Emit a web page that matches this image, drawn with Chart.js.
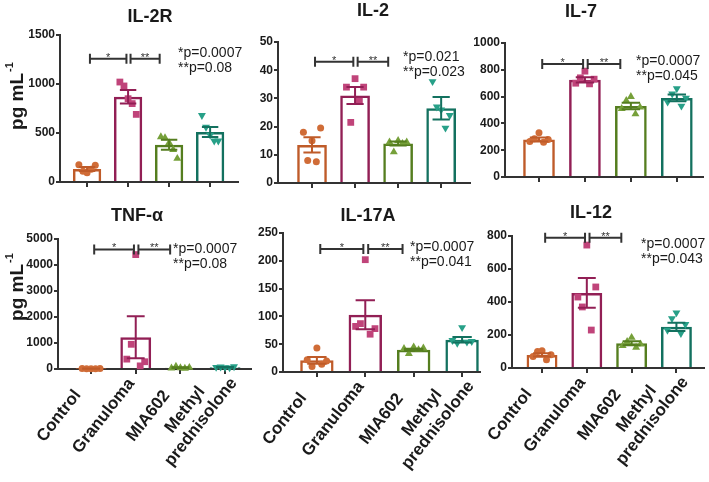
<!DOCTYPE html>
<html>
<head>
<meta charset="utf-8">
<script src="https://cdn.jsdelivr.net/npm/chart.js@4.4.0/dist/chart.umd.min.js"></script>
<style>
  html, body { margin: 0; padding: 0; background: #fff; }
  #wrap { position: relative; width: 709px; height: 482px; }
  #wrap canvas { position: absolute; left: 0; top: 0; }
</style>
</head>
<body>
<div id="wrap"></div>
<script>
var groups = ['Control', 'Granuloma', 'MIA602', ['Methyl', 'prednisolone']];
var titles = ['IL-2R', 'IL-2', 'IL-7', 'TNF-α', 'IL-17A', 'IL-12'];

// bar = mean, error bar = SEM, dots = single animals
var il2rMean = [133, 870, 380, 510];
var il2rSem = [20, 70, 50, 50];
var il2rPts = [[175, 110, 95, 130, 170], [1020, 980, 850, 800, 690], [460, 450, 400, 330, 240], [680, 560, 480, 420, 420]];

var il2Mean = [13.5, 31, 14, 26.5];
var il2Sem = [2.7, 3, 0.7, 4];
var il2Pts = [[18, 8, 15, 7.5, 19.5], [34, 21.5, 37, 29, 34], [14.5, 11, 15, 14, 14.5], [36, 27, 26, 19.5, 24]];

var il7Mean = [280, 725, 530, 590];
var il7Sem = [15, 20, 25, 25];
var il7Pts = [[265, 285, 330, 260, 280], [700, 740, 790, 695, 730], [510, 570, 600, 470, 520], [560, 620, 660, 530, 590]];

var tnfMean = [13, 1220, 50, 70];
var tnfSem = [3, 810, 14, 10];
var tnfPts = [[15, 10, 8, 12, 20], [380, 950, 4400, 120, 280], [30, 100, 40, 25, 55], [70, 80, 60, 50, 90]];

var il17aMean = [21, 103, 40, 58];
var il17aSem = [6, 26, 2, 5];
var il17aPts = [[22, 10, 43, 14, 20], [82, 87, 202, 68, 78], [42, 33, 45, 40, 43], [57, 52, 80, 54, 55]];

var il12Mean = [79, 455, 150, 250];
var il12Sem = [10, 90, 12, 25];
var il12Pts = [[70, 100, 105, 50, 80], [430, 370, 745, 230, 491], [135, 160, 185, 125, 145], [230, 300, 335, 210, 265]];

var yMax = [1500, 50, 1000, 5000, 250, 800];
var yStep = [500, 10, 200, 1000, 50, 200];
var sigY = [1258, 43, 843, 4600, 221, 790];
var pTexts = [
    ['*p=0.0007', '**p=0.08'], ['*p=0.021', '**p=0.023'], ['*p=0.0007', '**p=0.045'],
    ['*p=0.0007', '**p=0.08'], ['*p=0.0007', '**p=0.041'], ['*p=0.0007', '**p=0.043']
];

// layout (page pixels)
var areas = [[60, 35, 238, 182], [278, 42, 470, 183], [505, 43, 703, 177],
             [58, 239, 251, 369], [283, 233, 480, 372], [512, 236, 705, 368]];
var xRange = [[-0.66, 3.68], [-0.79, 3.67], [-0.74, 3.57], [-0.74, 3.58], [-0.70, 3.37], [-0.67, 3.62]];
var titlePos = [[150, 17], [373, 11], [581, 12], [137, 216], [368, 216], [591, 213]];
var pPos = [[178, 53], [403, 57], [636, 61], [173, 249], [410, 247], [641, 244]];
var yLabelPos = [[18, 96], null, null, [18, 287], null, null];

var edge = ['#BF5B29', '#921F55', '#557E1F', '#13715F'];
var dot = ['#D06C37', '#C0447A', '#76A03A', '#27A088'];
var shapes = ['circle', 'rect', 'triangle', 'triangle'];
var shapeRot = [0, 0, 0, 180];
var shapeRad = [3.5, 4.8, 4.6, 4.6];
var jitter = [-0.2, -0.1, 0, 0.1, 0.2];

var FONT = "'Liberation Sans', Arial, sans-serif";
var AXW = 40, AXH = 10;
var LABEL_ANGLE = 52;
Chart.defaults.font.family = FONT;

var makePanel = function (i, mean, sem, pts) {
    var canvas = document.createElement('canvas');
    canvas.width = 709;
    canvas.height = 482;
    document.getElementById('wrap').appendChild(canvas);
    var a = areas[i];
    var bottomRow = i >= 3;

    var barData = mean.map(function (m, g) { return { x: g, y: m }; });
    var dotData = [], dotColor = [], dotStyle = [], dotRot = [], dotRad = [];
    pts.forEach(function (list, g) {
        list.forEach(function (v, k) {
            dotData.push({ x: g + jitter[k], y: v });
            dotColor.push(dot[g]);
            dotStyle.push(shapes[g]);
            dotRot.push(shapeRot[g]);
            dotRad.push(shapeRad[g]);
        });
    });

    var extras = {
        id: 'extras' + i,
        afterDatasetsDraw: function (chart) {
            var ctx = chart.ctx, xs = chart.scales.x, ys = chart.scales.y;
            var step = xs.getPixelForValue(1) - xs.getPixelForValue(0);
            ctx.save();
            ctx.lineWidth = 2;
            // error bars
            mean.forEach(function (m, g) {
                var x = xs.getPixelForValue(g);
                var top = ys.getPixelForValue(m + sem[g]);
                var bot = ys.getPixelForValue(Math.max(m - sem[g], 0));
                var half = step * 0.2;
                ctx.strokeStyle = edge[g];
                ctx.beginPath();
                ctx.moveTo(x, top); ctx.lineTo(x, bot);
                ctx.moveTo(x - half, top); ctx.lineTo(x + half, top);
                ctx.moveTo(x - half, bot); ctx.lineTo(x + half, bot);
                ctx.stroke();
            });
            // significance brackets
            var y = ys.getPixelForValue(sigY[i]);
            var segs = [[0.07, 0.96, '*'], [1.06, 1.77, '**']];
            ctx.strokeStyle = '#333';
            ctx.fillStyle = '#333';
            ctx.font = '11px ' + FONT;
            ctx.textAlign = 'center';
            ctx.textBaseline = 'alphabetic';
            segs.forEach(function (s) {
                var x1 = xs.getPixelForValue(s[0]), x2 = xs.getPixelForValue(s[1]);
                ctx.beginPath();
                ctx.moveTo(x1, y); ctx.lineTo(x2, y);
                ctx.moveTo(x1, y - 5); ctx.lineTo(x1, y + 5);
                ctx.moveTo(x2, y - 5); ctx.lineTo(x2, y + 5);
                ctx.stroke();
                ctx.fillText(s[2], (x1 + x2) / 2, y + 2);
            });
            ctx.restore();
        },
        afterDraw: function (chart) {
            var ctx = chart.ctx, xs = chart.scales.x;
            ctx.save();
            ctx.fillStyle = '#1a1a1a';
            ctx.textBaseline = 'middle';
            // title
            ctx.font = 'bold 18px ' + FONT;
            ctx.textAlign = 'center';
            ctx.fillText(titles[i], titlePos[i][0], titlePos[i][1]);
            // p values
            ctx.font = '14px ' + FONT;
            ctx.textAlign = 'left';
            ctx.fillText(pTexts[i][0], pPos[i][0], pPos[i][1]);
            ctx.fillText(pTexts[i][1], pPos[i][0], pPos[i][1] + 15);
            // rotated, centred category labels (GraphPad style)
            if (bottomRow) {
                ctx.font = 'bold 17px ' + FONT;
                ctx.textAlign = 'center';
                groups.forEach(function (lab, g) {
                    var lines = Array.isArray(lab) ? lab : [lab];
                    ctx.save();
                    ctx.translate(xs.getPixelForValue(g) - 32, xs.top + 47);
                    ctx.rotate(-LABEL_ANGLE * Math.PI / 180);
                    lines.forEach(function (t, k) {
                        ctx.fillText(t, 0, (k - (lines.length - 1) / 2) * 20);
                    });
                    ctx.restore();
                });
            }
            // y axis label with superscript
            if (yLabelPos[i]) {
                ctx.translate(yLabelPos[i][0], yLabelPos[i][1]);
                ctx.rotate(-Math.PI / 2);
                ctx.font = 'bold 19px ' + FONT;
                var w1 = ctx.measureText('pg mL').width;
                ctx.font = 'bold 11px ' + FONT;
                var w2 = ctx.measureText('-1').width;
                var x0 = -(w1 + w2 + 1) / 2;
                ctx.textAlign = 'left';
                ctx.font = 'bold 19px ' + FONT;
                ctx.fillText('pg mL', x0, 0);
                ctx.font = 'bold 11px ' + FONT;
                ctx.fillText('-1', x0 + w1 + 1, -8);
            }
            ctx.restore();
        }
    };

    new Chart(canvas, {
        type: 'bar',
        data: {
            datasets: [
                {
                    type: 'scatter',
                    data: dotData,
                    order: 0,
                    clip: false,
                    pointStyle: dotStyle,
                    pointRotation: dotRot,
                    pointRadius: dotRad,
                    pointBackgroundColor: dotColor,
                    pointBorderColor: dotColor,
                    pointBorderWidth: 0
                },
                {
                    type: 'bar',
                    data: barData,
                    order: 1,
                    backgroundColor: 'rgba(255,255,255,0)',
                    borderColor: edge,
                    borderWidth: 2.5,
                    barPercentage: 0.69,
                    categoryPercentage: 1
                }
            ]
        },
        options: {
            responsive: false,
            animation: false,
            events: [],
            layout: {
                padding: { left: a[0] - AXW, top: a[1], right: 709 - a[2], bottom: 482 - a[3] - AXH }
            },
            plugins: {
                legend: { display: false },
                tooltip: { enabled: false },
                title: { display: false }
            },
            scales: {
                x: {
                    type: 'linear',
                    offset: false,
                    min: xRange[i][0],
                    max: xRange[i][1],
                    afterBuildTicks: function (s) {
                        s.ticks = [0, 1, 2, 3].map(function (v) { return { value: v }; });
                    },
                    afterFit: function (s) {
                        s.height = AXH;
                        s.paddingLeft = 0;
                        s.paddingRight = 0;
                    },
                    grid: { offset: false, drawOnChartArea: false, tickLength: 5, color: '#333', lineWidth: 2 },
                    border: { display: true, color: '#333', width: 2 },
                    ticks: { display: false }
                },
                y: {
                    type: 'linear',
                    min: 0,
                    max: yMax[i],
                    afterFit: function (s) {
                        s.width = AXW;
                        s.paddingTop = 0;
                        s.paddingBottom = 0;
                    },
                    grid: { drawOnChartArea: false, tickLength: 4, color: '#333', lineWidth: 2 },
                    border: { display: true, color: '#333', width: 2 },
                    ticks: {
                        stepSize: yStep[i],
                        padding: 1,
                        color: '#1a1a1a',
                        font: { size: 12, weight: 'bold' },
                        callback: function (v) { return String(v); }
                    }
                }
            }
        },
        plugins: [extras]
    });
};

makePanel(0, il2rMean, il2rSem, il2rPts);
makePanel(1, il2Mean, il2Sem, il2Pts);
makePanel(2, il7Mean, il7Sem, il7Pts);
makePanel(3, tnfMean, tnfSem, tnfPts);
makePanel(4, il17aMean, il17aSem, il17aPts);
makePanel(5, il12Mean, il12Sem, il12Pts);
</script>
</body>
</html>
